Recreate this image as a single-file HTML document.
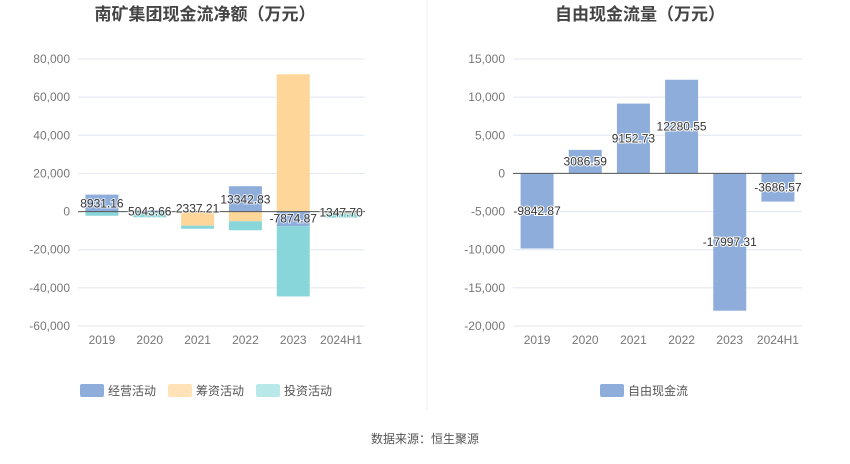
<!DOCTYPE html>
<html><head><meta charset="utf-8"><style>
body{margin:0;background:#fff;width:850px;height:459px;overflow:hidden;font-family:"Liberation Sans","Noto Sans CJK SC",sans-serif}
svg text{font-family:"Liberation Sans","Noto Sans CJK SC",sans-serif}
</style></head><body>
<svg id="c" width="850" height="459">
<line x1="427" y1="0" x2="427" y2="410" stroke="#eee"/>
<text x="205" y="20" text-anchor="middle" font-size="17" font-weight="bold" fill="#444">南矿集团现金流净额（万元）</text>
<text x="640" y="20" text-anchor="middle" font-size="17" font-weight="bold" fill="#444">自由现金流量（万元）</text>
<g id="L"></g><g id="R"></g>
<rect x="80" y="384" width="24" height="13" rx="2" fill="#8eaddb"/>
<text x="108" y="395" font-size="12" fill="#555">经营活动</text>
<rect x="168" y="384" width="24" height="13" rx="2" fill="#ffe2b8"/>
<text x="196" y="395" font-size="12" fill="#555">筹资活动</text>
<rect x="256" y="384" width="24" height="13" rx="2" fill="#b8e8e8"/>
<text x="284" y="395" font-size="12" fill="#555">投资活动</text>
<rect x="600" y="384" width="24" height="13" rx="2" fill="#8eaddb"/>
<text x="628" y="395" font-size="12" fill="#555">自由现金流</text>
<text x="425" y="443" text-anchor="middle" font-size="12" fill="#555">数据来源：恒生聚源</text>
</svg>
<script>
const categories=["2019","2020","2021","2022","2023","2024H1"];
const operating=[8900,600,300,13300,-7700,-600];
const financing=[0,0,-7400,-5100,72000,-400];
const investing=[-2200,-3000,-1600,-4700,-36800,-2200];
const netLabels=["8931.16","5043.66","2337.21","13342.83","-7874.87","1347.70"];
const leftTicks=[-60000,-40000,-20000,0,20000,40000,60000,80000];
const fcf=[-9842.87,3086.59,9152.73,12280.55,-17997.31,-3686.57];
const rightTicks=[-20000,-15000,-10000,-5000,0,5000,10000,15000];
const labelShift=[-8,0,-3,-12,7,1];
const NS="http://www.w3.org/2000/svg";
function mk(p,t,a){const e=document.createElementNS(NS,t);for(const k in a)e.setAttribute(k,a[k]);p.appendChild(e);return e;}
function fmt(v){return v.toLocaleString('en-US');}
function axis(g,ticks,x0,x1,y,catX){
  ticks.forEach(t=>{
    const l=mk(g,'line',{x1:x0,x2:x1,y1:y(t),y2:y(t),stroke:'#e0e6f1'});
    
    
    const tx=mk(g,'text',{x:x0-8,y:y(t)+4,'text-anchor':'end','font-size':12,fill:'#777'});tx.textContent=fmt(t);
    
    
  });
  categories.forEach((c,i)=>{
    const tx=mk(g,'text',{x:catX(i),y:344,'text-anchor':'middle','font-size':12,fill:'#777'});tx.textContent=c;
    
    
  });
}
const L=document.getElementById('L');
const lx0=78,lx1=365,lyTop=59,lyBot=326,lmin=-60000,lmax=80000;
const ly=v=>lyBot-(v-lmin)/(lmax-lmin)*(lyBot-lyTop);
const lcx=i=>lx0+(i+0.5)*(lx1-lx0)/categories.length;
axis(L,leftTicks,lx0,lx1,ly,lcx);
const series=[[operating,'#8eaddb','bar-operating'],[financing,'#ffd699','bar-financing'],[investing,'#88d6da','bar-investing']];
const pos=categories.map(()=>0),neg=categories.map(()=>0);
series.forEach(([arr,col,name])=>{
  arr.forEach((v,i)=>{
    let a,b;
    if(v>=0){a=pos[i];b=pos[i]+v;pos[i]=b;}else{a=neg[i];b=neg[i]+v;neg[i]=b;}
    const y1=Math.min(ly(a),ly(b)),h=Math.abs(ly(a)-ly(b));
    const r=mk(L,'rect',{x:lcx(i)-16.5,y:y1,width:33,height:h,fill:col});
    
    
  });
});
mk(L,'line',{x1:lx0,x2:lx1,y1:ly(0),y2:ly(0),stroke:'#555'});
netLabels.forEach((s,i)=>{
  const t=mk(L,'text',{x:lcx(i),y:ly(0)+4+labelShift[i],'text-anchor':'middle','font-size':12,fill:'#333',stroke:'#fff','stroke-width':2,'paint-order':'stroke','stroke-opacity':0.7});
  t.textContent=s;
  
  
});
const R=document.getElementById('R');
const rx0=513,rx1=802,ryTop=59,ryBot=326,rmin=-20000,rmax=15000;
const ry=v=>ryBot-(v-rmin)/(rmax-rmin)*(ryBot-ryTop);
const rcx=i=>rx0+(i+0.5)*(rx1-rx0)/categories.length;
axis(R,rightTicks,rx0,rx1,ry,rcx);
fcf.forEach((v,i)=>{
  const r=mk(R,'rect',{x:rcx(i)-16.5,y:Math.min(ry(0),ry(v)),width:33,height:Math.abs(ry(v)-ry(0)),fill:'#8eaddb'});
  
  
});
mk(R,'line',{x1:rx0,x2:rx1,y1:ry(0),y2:ry(0),stroke:'#555'});
fcf.forEach((v,i)=>{
  const y=(ry(0)+ry(v))/2+4;
  const t=mk(R,'text',{x:rcx(i),y:y,'text-anchor':'middle','font-size':12,fill:'#333',stroke:'#fff','stroke-width':2,'paint-order':'stroke'});
  t.textContent=v.toFixed(2);
  
  
});
</script>
</body></html>
